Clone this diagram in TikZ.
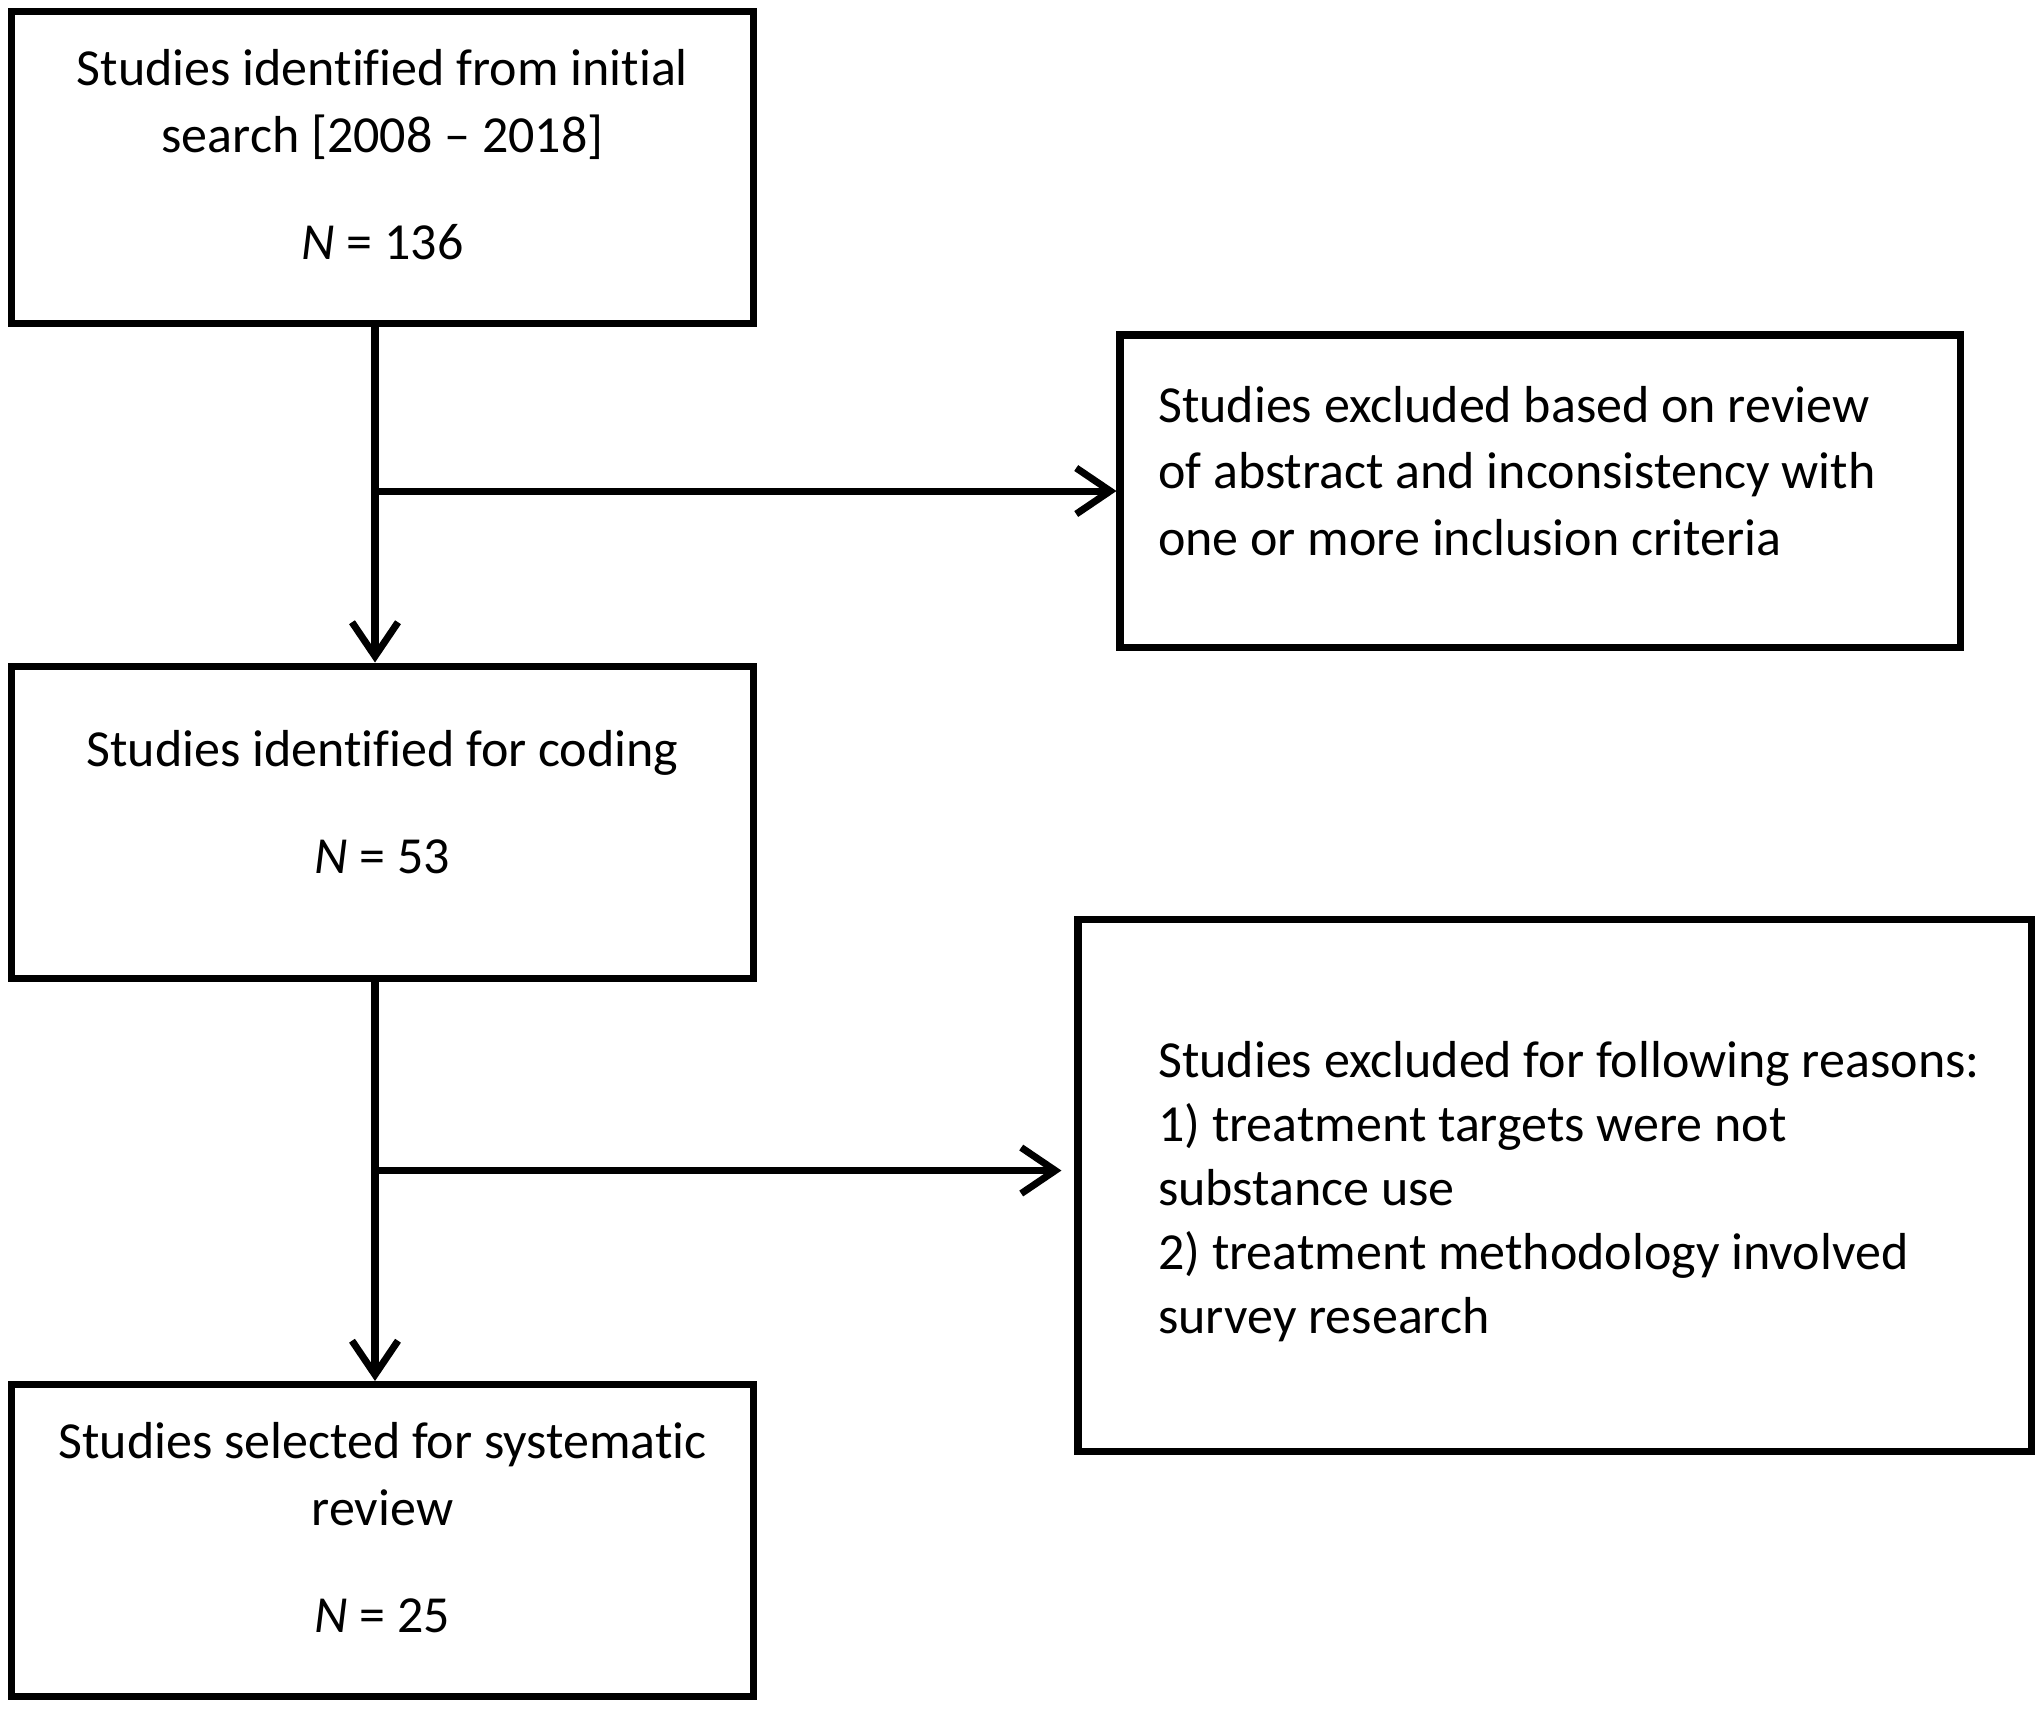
\documentclass[tikz,border=0pt]{standalone}
\usepackage{fontspec}
\setmainfont{Carlito}[Ligatures=CommonOff]
\usetikzlibrary{arrows.meta,positioning}
\newcommand{\flowfont}{\fontsize{14.8}{19}\selectfont}
\tikzset{
    stage/.style={draw=black, line width=2pt, minimum width=7.42cm,
        minimum height=3.12cm, inner sep=0pt},
    stagetext/.style={align=center, inner sep=0pt, font=\flowfont},
    exclbox/.style={draw=black, line width=2pt, inner sep=0pt},
    excltext/.style={align=left, inner sep=0pt, font=\flowfont},
    flow/.style={line width=2pt, -{Straight Barb[length=0.34cm,width=0.46cm]}}
}

\begin{document}
\begin{tikzpicture}
    \useasboundingbox (0,0) rectangle (20.40,-17.08);

    \node[stage] (initial) at (3.825,-1.675) {};
    \node[stagetext] (initialtxt) at ([yshift=0.13cm]initial.center)
        {Studies identified from initial\\ search [2008 – 2018]\\[0.4cm] \textit{N} = 136};
    \node[stage] (coding) at (3.825,-8.22) {};
    \node[stagetext] (codingtxt) at ([yshift=0.2cm]coding.center)
        {Studies identified for coding\\[0.4cm] \textit{N} = 53};
    \node[stage] (selected) at (3.825,-15.405) {};
    \node[stagetext] (selectedtxt) at ([yshift=0.13cm]selected.center)
        {Studies selected for systematic\\ review\\[0.4cm] \textit{N} = 25};

    \node[exclbox, minimum width=8.40cm, minimum height=3.12cm] (excl1) at (15.40,-4.91) {};
    \node[excltext, right=0.41cm of excl1.west, yshift=0.2cm] (excl1txt)
        {Studies excluded based on review\\ of abstract and inconsistency with\\
        one or more inclusion criteria};

    \node[exclbox, minimum width=9.53cm, minimum height=5.32cm] (excl2) at (15.545,-11.85) {};
    \node[excltext, font=\fontsize{14.8}{18.2}\selectfont, right=0.83cm of excl2.west,
        yshift=-0.065cm] (excl2txt)
        {Studies excluded for following reasons:\\ 1) treatment targets were not\\
        substance use\\ 2) treatment methodology involved\\ survey research};

    \path ([xshift=-0.075cm]initial.south) ++(0,-1.64) coordinate (split1);
    \path ([xshift=-0.075cm]coding.south) ++(0,-1.89) coordinate (split2);

    \draw[flow] ([xshift=-0.075cm]initial.south) -- ([xshift=-0.075cm]coding.north);
    \draw[flow] (split1) -- (excl1.west |- split1);
    \draw[flow] ([xshift=-0.075cm]coding.south) -- ([xshift=-0.075cm]selected.north);
    \draw[flow] (split2) -- ([xshift=-0.13cm]excl2.west |- split2);
\end{tikzpicture}
\end{document}
